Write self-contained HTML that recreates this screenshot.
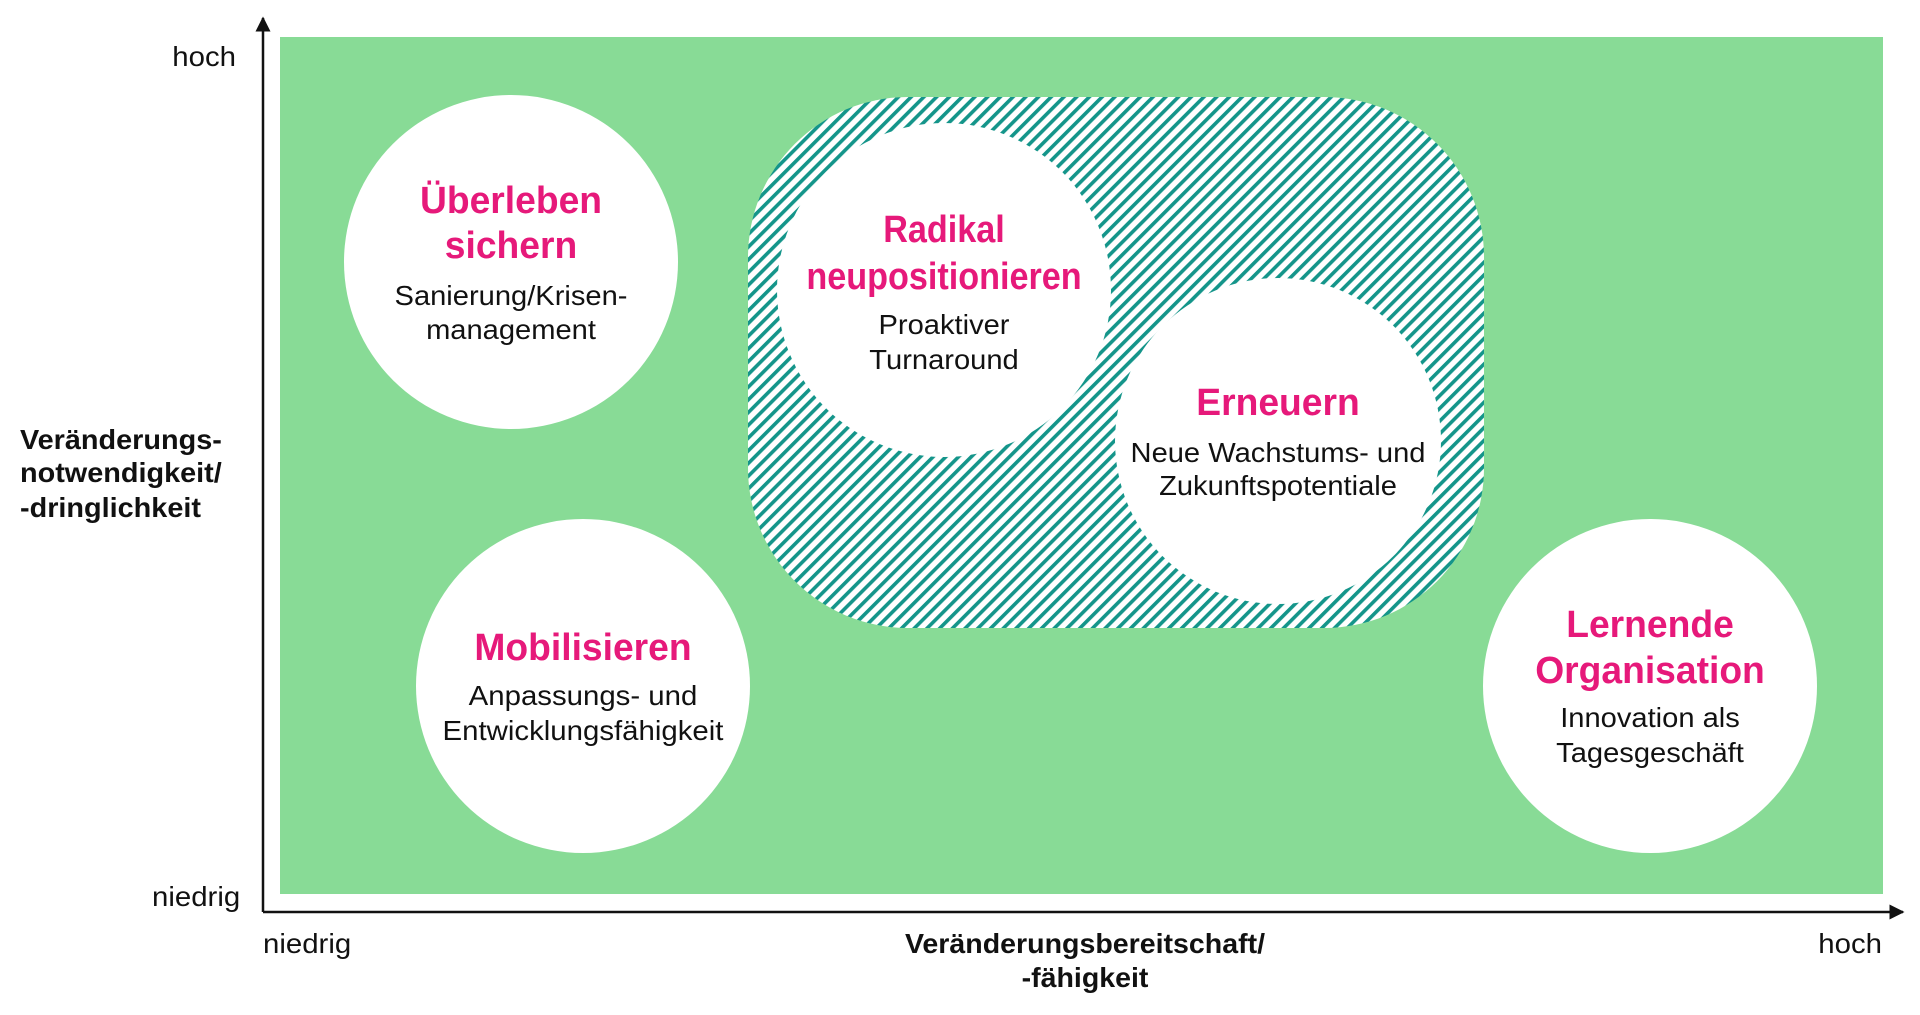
<!DOCTYPE html>
<html><head><meta charset="utf-8"><style>html,body{margin:0;padding:0;background:#fff}svg{display:block}</style></head>
<body>
<svg width="1920" height="1015" viewBox="0 0 1920 1015" xmlns="http://www.w3.org/2000/svg" font-family="'Liberation Sans', sans-serif">
<defs>
<pattern id="h" patternUnits="userSpaceOnUse" width="9" height="9" patternTransform="rotate(45)">
<rect width="9" height="9" fill="#fff"/><rect width="3.6" height="9" fill="#14958a"/>
</pattern>
<marker id="a" viewBox="0 0 10 10" refX="9" refY="5" markerWidth="6" markerHeight="6" orient="auto"><path d="M0 0L10 5L0 10z" fill="#111"/></marker>
</defs>
<rect x="280" y="37" width="1603" height="857" fill="#88db96"/>
<rect x="748" y="97" width="736" height="531" rx="160" fill="url(#h)"/>
<circle cx="511" cy="262" r="167" fill="#fff"/>
<circle cx="583" cy="686" r="167" fill="#fff"/>
<circle cx="1650" cy="686" r="167" fill="#fff"/>
<circle cx="944" cy="290" r="167" fill="#fff"/>
<circle cx="1278" cy="441" r="163" fill="#fff"/>
<line x1="263" y1="912" x2="263" y2="18" stroke="#111" stroke-width="2.5" marker-end="url(#a)"/>
<line x1="263" y1="912" x2="1903" y2="912" stroke="#111" stroke-width="2.5" marker-end="url(#a)"/>
<g fill="#e6197a" font-weight="bold" font-size="38" text-anchor="middle">
<g transform="translate(511,0) scale(.98,1)"><text y="213">Überleben</text><text y="258">sichern</text></g>
<g transform="translate(944,0) scale(.9,1)"><text y="242">Radikal</text><text y="289">neupositionieren</text></g>
<g transform="translate(1278,0) scale(.98,1)"><text y="415">Erneuern</text></g>
<g transform="translate(583,0) scale(.98,1)"><text y="660">Mobilisieren</text></g>
<g transform="translate(1650,0) scale(.98,1)"><text y="637">Lernende</text><text y="683">Organisation</text></g>
</g>
<g fill="#111" font-size="28" text-anchor="middle">
<g transform="translate(511,0) scale(1.04,1)"><text y="305">Sanierung/Krisen-</text><text y="339">management</text></g>
<g transform="translate(944,0) scale(1.04,1)"><text y="334">Proaktiver</text><text y="369">Turnaround</text></g>
<g transform="translate(1278,0) scale(1.04,1)"><text y="462">Neue Wachstums- und</text><text y="495">Zukunftspotentiale</text></g>
<g transform="translate(583,0) scale(1.05,1)"><text y="705">Anpassungs- und</text><text y="740">Entwicklungsfähigkeit</text></g>
<g transform="translate(1650,0) scale(1.04,1)"><text y="727">Innovation als</text><text y="762">Tagesgeschäft</text></g>
</g>
<g fill="#111" font-size="28">
<g transform="translate(236,0) scale(1.05,1)"><text y="66" text-anchor="end">hoch</text><text y="906" text-anchor="end" x="4">niedrig</text></g>
<g transform="translate(263,0) scale(1.05,1)"><text y="953">niedrig</text></g>
<g transform="translate(1882,0) scale(1.05,1)"><text y="953" text-anchor="end">hoch</text></g>
<g font-weight="bold" transform="translate(20,0) scale(1.03,1)"><text y="449">Veränderungs-</text><text y="482">notwendigkeit/</text><text y="517">-dringlichkeit</text></g>
<g font-weight="bold" text-anchor="middle" transform="translate(1085,0) scale(1.02,1)"><text y="953">Veränderungsbereitschaft/</text><text y="987">-fähigkeit</text></g>
</g>
</svg>
</body></html>
